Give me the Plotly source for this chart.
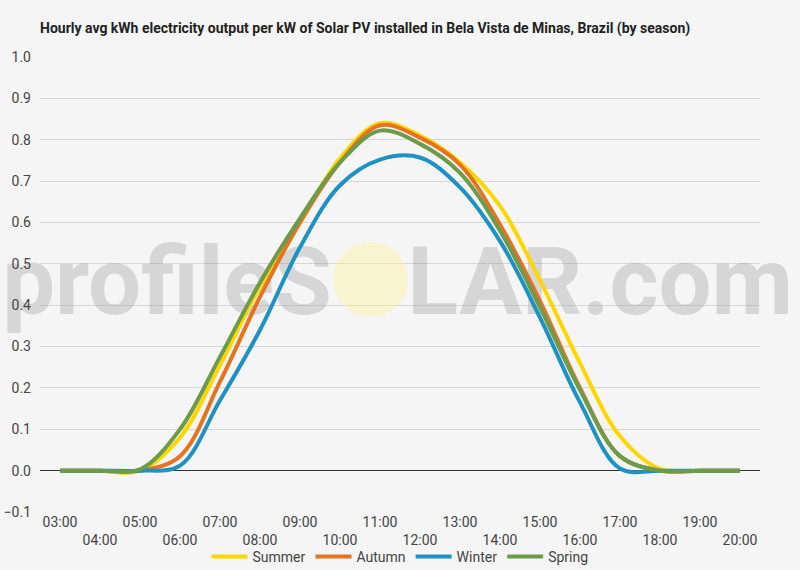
import plotly.graph_objects as go

hours = ["03:00", "04:00", "05:00", "06:00", "07:00", "08:00", "09:00", "10:00", "11:00",
         "12:00", "13:00", "14:00", "15:00", "16:00", "17:00", "18:00", "19:00", "20:00"]

summer = [0, 0, 0, 0.08, 0.255, 0.445, 0.60, 0.755, 0.84, 0.81, 0.745, 0.64, 0.46, 0.26, 0.083, 0.004, 0, 0]
autumn = [0, 0, 0, 0.035, 0.215, 0.42, 0.60, 0.745, 0.835, 0.805, 0.74, 0.595, 0.41, 0.20, 0.035, 0, 0, 0]
winter = [0, 0, 0, 0.012, 0.17, 0.34, 0.54, 0.69, 0.752, 0.757, 0.685, 0.555, 0.37, 0.165, 0.005, 0, 0, 0]
spring = [0, 0, 0.003, 0.10, 0.275, 0.455, 0.61, 0.745, 0.822, 0.79, 0.72, 0.58, 0.395, 0.195, 0.035, 0, 0, 0]

series_names = ["Summer", "Autumn", "Winter", "Spring"]
series_values = [summer, autumn, winter, spring]
series_colors = ["#FFD600", "#E5731F", "#1F91C2", "#6C9B4C"]

title = "Hourly avg kWh electricity output per kW of Solar PV installed in Bela Vista de Minas, Brazil (by season)"
y_ticks = [-0.1, 0.0, 0.1, 0.2, 0.3, 0.4, 0.5, 0.6, 0.7, 0.8, 0.9, 1.0]

x_idx = list(range(len(hours)))
tick_text = [h if i % 2 == 0 else "<br>" + h for i, h in enumerate(hours)]

fig = go.Figure()

# watermark (drawn below the lines)
wm_font = dict(family="Roboto", size=94, color="rgba(150,150,150,0.32)", weight=700)
fig.add_trace(go.Scatter(x=[6.8], y=[0.436], mode="text", text=["profileS"],
                         textposition="middle left", cliponaxis=False, textfont=wm_font,
                         hoverinfo="skip", showlegend=False))
fig.add_trace(go.Scatter(x=[8.68], y=[0.436], mode="text", text=["LAR.com"],
                         textposition="middle right", cliponaxis=False, textfont=wm_font,
                         hoverinfo="skip", showlegend=False))
fig.add_shape(type="circle", xref="x", yref="y", x0=6.825, x1=8.7, y0=0.372, y1=0.553,
              fillcolor="rgba(255,242,150,0.40)", line=dict(width=0), layer="between")

for name, vals, col in zip(series_names, series_values, series_colors):
    fig.add_trace(go.Scatter(x=x_idx, y=vals, name=name, mode="lines",
                             line=dict(color=col, width=4, shape="spline", smoothing=1)))

fig.update_layout(
    width=800, height=570,
    paper_bgcolor="#f5f5f5", plot_bgcolor="#f5f5f5",
    margin=dict(l=40, r=40, t=57, b=58, autoexpand=False),
    font=dict(family="Roboto", size=14, color="#444"),
    title=dict(text="<b>" + title + "</b>", x=40 / 800, xref="container", xanchor="left",
               y=1 - 28 / 570, yref="container", yanchor="middle",
               font=dict(family="Roboto", size=14, color="#222")),
    showlegend=True,
    legend=dict(orientation="h", x=0.5, xref="container", xanchor="center",
                y=13 / 570, yref="container", yanchor="middle", itemwidth=36,
                font=dict(size=14, color="#444"), bgcolor="rgba(0,0,0,0)"),
)
fig.update_xaxes(range=[-0.5, 17.5], tickvals=x_idx, ticktext=tick_text, showgrid=False,
                 zeroline=False, showline=False, ticks="", automargin=False,
                 tickfont=dict(size=14, color="#444"))
fig.update_yaxes(range=[-0.1, 1.0], tickvals=y_ticks, tickformat=".1f", showgrid=True,
                 gridcolor="#d6d6d6", gridwidth=1, zeroline=True, zerolinecolor="#333",
                 zerolinewidth=1, showline=False, ticks="", automargin=False,
                 ticklabelstandoff=8, tickfont=dict(size=14, color="#444"))

fig.write_html("out.html")
